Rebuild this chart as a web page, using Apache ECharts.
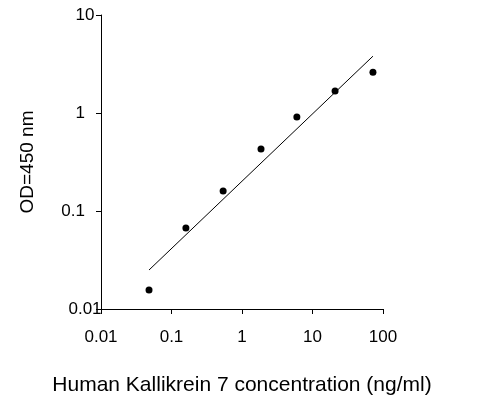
<!DOCTYPE html>
<html><head><meta charset="utf-8">
<script src="https://cdn.jsdelivr.net/npm/echarts@6/dist/echarts.min.js"></script>
<style>html,body{margin:0;background:#fff}#c{width:482px;height:407px}</style>
</head><body><div id="c"></div>
<script>
const concentrations = [0.048, 0.16, 0.54, 1.86, 6.0, 20.9, 72];
const odValues = [0.0156, 0.067, 0.16, 0.43, 0.91, 1.68, 2.6];
const fitLine = [[0.048, 0.025], [72, 3.8]];
const fmt = v => { const m = {0.01:'0.01',0.1:'0.1',1:'1',10:'10',100:'100'}; for (const k in m) if (Math.abs(v-k)/k<1e-6) return m[k]; return ''; };
const font = 'Liberation Sans, Arial, sans-serif';
const chart = echarts.init(document.getElementById('c'));
chart.setOption({
  animation: false,
  grid: {left: 101, right: 99, top: 15, bottom: 98},
  xAxis: {type: 'log', logBase: 10, min: 0.01, max: 100,
    name: 'Human Kallikrein 7 concentration (ng/ml)', nameLocation: 'middle', nameGap: 66,
    nameTextStyle: {fontSize: 21, color: '#000', fontFamily: font},
    axisLine: {lineStyle: {color: '#000'}}, axisTick: {lineStyle: {color: '#000'}, length: 5},
    axisLabel: {formatter: fmt, fontSize: 17, color: '#000', fontFamily: font, margin: 20, alignMinLabel: 'center', alignMaxLabel: 'center'},
    splitLine: {show: false}},
  yAxis: {type: 'log', logBase: 10, min: 0.01, max: 10,
    name: 'OD=450 nm', nameLocation: 'middle', nameGap: 64,
    nameTextStyle: {fontSize: 19, color: '#000', fontFamily: font},
    axisLine: {show: true, lineStyle: {color: '#000'}}, axisTick: {show: true, lineStyle: {color: '#000'}, length: 5},
    axisLabel: {formatter: fmt, fontSize: 17, color: '#000', fontFamily: font, margin: 16, verticalAlign: 'middle', alignMinLabel: 'middle', alignMaxLabel: 'middle'},
    splitLine: {show: false}},
  series: [
    {type: 'scatter', data: concentrations.map((x,i)=>[x, odValues[i]]), symbolSize: 7, itemStyle: {color: '#000', opacity: 1}},
    {type: 'line', data: fitLine, symbol: 'none', lineStyle: {color: '#000', width: 1}}
  ]
});
</script></body></html>
